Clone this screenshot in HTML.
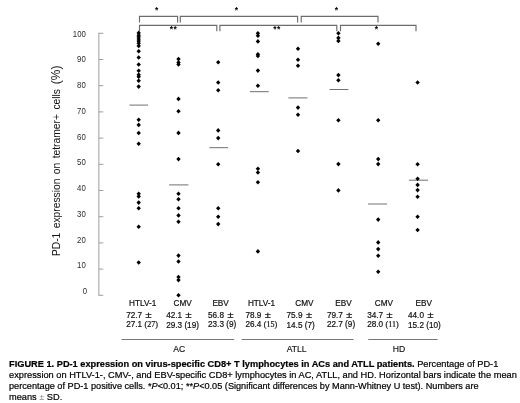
<!DOCTYPE html>
<html><head><meta charset="utf-8"><title>Figure 1</title>
<style>
html,body{margin:0;padding:0;background:#fff;}
body{width:520px;height:403px;position:relative;overflow:hidden;font-family:"Liberation Sans",sans-serif;color:#111;}
svg{position:absolute;left:0;top:0;}
svg text{font-family:"Liberation Sans",sans-serif;}
.cap{position:absolute;left:9px;white-space:nowrap;font-size:9.22px;line-height:10.5px;color:#000;-webkit-text-stroke:0.2px #000;}
.serif{font-family:"Liberation Serif",serif;}
</style></head><body>
<svg width="520" height="403" viewBox="0 0 520 403">
<g stroke="#949494" stroke-width="0.9" fill="none">
<path d="M98.85 32.8V295.8"/>
<path d="M98.8 33.3H103.3"/>
<path d="M98.8 59.5H103.3"/>
<path d="M98.8 85.7H103.3"/>
<path d="M98.8 111.9H103.3"/>
<path d="M98.8 138.1H103.3"/>
<path d="M98.8 164.3H103.3"/>
<path d="M98.8 190.5H103.3"/>
<path d="M98.8 216.7H103.3"/>
<path d="M98.8 242.9H103.3"/>
<path d="M98.8 269.1H103.3"/>
<path d="M98.8 295.3H103.3"/>
</g>
<g font-size="7.8" fill="#2a2a2a" text-anchor="end">
<text transform="translate(85.8 36.6) scale(1,1.08)">100</text>
<text transform="translate(85.8 62.4) scale(1,1.08)">90</text>
<text transform="translate(85.8 88.1) scale(1,1.08)">80</text>
<text transform="translate(85.8 113.8) scale(1,1.08)">70</text>
<text transform="translate(85.8 139.6) scale(1,1.08)">60</text>
<text transform="translate(85.8 165.3) scale(1,1.08)">50</text>
<text transform="translate(85.8 191.1) scale(1,1.08)">40</text>
<text transform="translate(85.8 216.8) scale(1,1.08)">30</text>
<text transform="translate(85.8 242.6) scale(1,1.08)">20</text>
<text transform="translate(85.8 268.4) scale(1,1.08)">10</text>
<text transform="translate(87.1 294.1) scale(1,1.08)">0</text>
</g>
<text transform="translate(59.9 256.1) rotate(-90) scale(0.95,1.08)" font-size="10.85" word-spacing="1.6" fill="#111" xml:space="preserve">PD-1 expression on tetramer+ cells <tspan font-size="12.6" dx="0.5">(%)</tspan></text>
<g stroke="#6c6c6c" stroke-width="1.15" fill="none">
<path d="M139.5 22.5V16.4H177.6V22.5"/>
<path d="M180.3 22.5V16.4H297.6V22.5"/>
<path d="M301.2 22.5V16.4H378V22.5"/>
<path d="M139.5 31.3V25.3H216.8V31.3"/>
<path d="M219.9 31.3V25.3H336.8V31.3"/>
<path d="M340.5 31.3V25.3H416V31.3"/>
</g>
<g font-size="8.5" font-weight="bold" fill="#000" text-anchor="middle" letter-spacing="0.45">
<text x="156.8" y="13.4">*</text>
<text x="236.7" y="13.4">*</text>
<text x="336.7" y="13.4">*</text>
<text x="173.6" y="32.0">**</text>
<text x="277.0" y="32.2">**</text>
<text x="376.7" y="32.3">*</text>
</g>
<g stroke="#606060" stroke-width="0.9">
<path d="M129.4 105.1H148.0"/>
<path d="M169.1 184.9H188.4"/>
<path d="M209.3 147.7H228.1"/>
<path d="M249.9 91.7H268.8"/>
<path d="M288.4 97.9H307.4"/>
<path d="M329.5 89.5H348.4"/>
<path d="M368.0 204.0H387.1"/>
<path d="M408.9 180.2H428.0"/>
</g>
<g fill="#000">
<path d="M138.7 30.6l2.2 2.3l-2.2 2.3l-2.2-2.3z"/>
<path d="M138.7 32.9l2.2 2.3l-2.2 2.3l-2.2-2.3z"/>
<path d="M138.7 34.6l2.2 2.3l-2.2 2.3l-2.2-2.3z"/>
<path d="M138.7 36.7l2.2 2.3l-2.2 2.3l-2.2-2.3z"/>
<path d="M138.7 38.8l2.2 2.3l-2.2 2.3l-2.2-2.3z"/>
<path d="M138.7 40.9l2.2 2.3l-2.2 2.3l-2.2-2.3z"/>
<path d="M138.7 43.6l2.2 2.3l-2.2 2.3l-2.2-2.3z"/>
<path d="M138.7 48.9l2.2 2.3l-2.2 2.3l-2.2-2.3z"/>
<path d="M138.7 55.2l2.2 2.3l-2.2 2.3l-2.2-2.3z"/>
<path d="M138.7 62.2l2.2 2.3l-2.2 2.3l-2.2-2.3z"/>
<path d="M138.7 68.5l2.2 2.3l-2.2 2.3l-2.2-2.3z"/>
<path d="M138.7 72.5l2.2 2.3l-2.2 2.3l-2.2-2.3z"/>
<path d="M138.7 74.4l2.2 2.3l-2.2 2.3l-2.2-2.3z"/>
<path d="M138.7 78.4l2.2 2.3l-2.2 2.3l-2.2-2.3z"/>
<path d="M138.7 84.3l2.2 2.3l-2.2 2.3l-2.2-2.3z"/>
<path d="M138.7 117.4l2.2 2.3l-2.2 2.3l-2.2-2.3z"/>
<path d="M138.7 122.6l2.2 2.3l-2.2 2.3l-2.2-2.3z"/>
<path d="M138.7 130.7l2.2 2.3l-2.2 2.3l-2.2-2.3z"/>
<path d="M138.7 141.5l2.2 2.3l-2.2 2.3l-2.2-2.3z"/>
<path d="M138.7 191.4l2.2 2.3l-2.2 2.3l-2.2-2.3z"/>
<path d="M138.7 194.1l2.2 2.3l-2.2 2.3l-2.2-2.3z"/>
<path d="M138.7 200.3l2.2 2.3l-2.2 2.3l-2.2-2.3z"/>
<path d="M138.7 206.0l2.2 2.3l-2.2 2.3l-2.2-2.3z"/>
<path d="M138.7 224.5l2.2 2.3l-2.2 2.3l-2.2-2.3z"/>
<path d="M138.7 260.2l2.2 2.3l-2.2 2.3l-2.2-2.3z"/>
<path d="M178.5 56.8l2.2 2.3l-2.2 2.3l-2.2-2.3z"/>
<path d="M178.5 60.1l2.2 2.3l-2.2 2.3l-2.2-2.3z"/>
<path d="M178.5 62.1l2.2 2.3l-2.2 2.3l-2.2-2.3z"/>
<path d="M178.5 96.6l2.2 2.3l-2.2 2.3l-2.2-2.3z"/>
<path d="M178.5 109.0l2.2 2.3l-2.2 2.3l-2.2-2.3z"/>
<path d="M178.5 130.6l2.2 2.3l-2.2 2.3l-2.2-2.3z"/>
<path d="M178.5 156.8l2.2 2.3l-2.2 2.3l-2.2-2.3z"/>
<path d="M178.5 191.4l2.2 2.3l-2.2 2.3l-2.2-2.3z"/>
<path d="M178.5 197.0l2.2 2.3l-2.2 2.3l-2.2-2.3z"/>
<path d="M178.5 205.9l2.2 2.3l-2.2 2.3l-2.2-2.3z"/>
<path d="M178.5 213.1l2.2 2.3l-2.2 2.3l-2.2-2.3z"/>
<path d="M178.5 219.5l2.2 2.3l-2.2 2.3l-2.2-2.3z"/>
<path d="M178.5 253.3l2.2 2.3l-2.2 2.3l-2.2-2.3z"/>
<path d="M178.5 259.2l2.2 2.3l-2.2 2.3l-2.2-2.3z"/>
<path d="M178.5 274.7l2.2 2.3l-2.2 2.3l-2.2-2.3z"/>
<path d="M178.5 277.8l2.2 2.3l-2.2 2.3l-2.2-2.3z"/>
<path d="M178.5 293.0l2.2 2.3l-2.2 2.3l-2.2-2.3z"/>
<path d="M218.2 59.9l2.2 2.3l-2.2 2.3l-2.2-2.3z"/>
<path d="M218.2 80.2l2.2 2.3l-2.2 2.3l-2.2-2.3z"/>
<path d="M218.2 87.9l2.2 2.3l-2.2 2.3l-2.2-2.3z"/>
<path d="M218.2 128.1l2.2 2.3l-2.2 2.3l-2.2-2.3z"/>
<path d="M218.2 135.8l2.2 2.3l-2.2 2.3l-2.2-2.3z"/>
<path d="M218.2 162.0l2.2 2.3l-2.2 2.3l-2.2-2.3z"/>
<path d="M218.2 205.9l2.2 2.3l-2.2 2.3l-2.2-2.3z"/>
<path d="M218.2 214.4l2.2 2.3l-2.2 2.3l-2.2-2.3z"/>
<path d="M218.2 221.8l2.2 2.3l-2.2 2.3l-2.2-2.3z"/>
<path d="M257.9 30.9l2.2 2.3l-2.2 2.3l-2.2-2.3z"/>
<path d="M257.9 33.4l2.2 2.3l-2.2 2.3l-2.2-2.3z"/>
<path d="M257.9 39.1l2.2 2.3l-2.2 2.3l-2.2-2.3z"/>
<path d="M257.9 52.0l2.2 2.3l-2.2 2.3l-2.2-2.3z"/>
<path d="M257.9 53.7l2.2 2.3l-2.2 2.3l-2.2-2.3z"/>
<path d="M257.9 68.3l2.2 2.3l-2.2 2.3l-2.2-2.3z"/>
<path d="M257.9 83.4l2.2 2.3l-2.2 2.3l-2.2-2.3z"/>
<path d="M257.9 166.5l2.2 2.3l-2.2 2.3l-2.2-2.3z"/>
<path d="M257.9 170.2l2.2 2.3l-2.2 2.3l-2.2-2.3z"/>
<path d="M257.9 179.9l2.2 2.3l-2.2 2.3l-2.2-2.3z"/>
<path d="M257.9 249.1l2.2 2.3l-2.2 2.3l-2.2-2.3z"/>
<path d="M298.0 46.5l2.2 2.3l-2.2 2.3l-2.2-2.3z"/>
<path d="M298.0 57.4l2.2 2.3l-2.2 2.3l-2.2-2.3z"/>
<path d="M298.0 63.4l2.2 2.3l-2.2 2.3l-2.2-2.3z"/>
<path d="M298.0 105.3l2.2 2.3l-2.2 2.3l-2.2-2.3z"/>
<path d="M298.0 112.5l2.2 2.3l-2.2 2.3l-2.2-2.3z"/>
<path d="M298.0 148.7l2.2 2.3l-2.2 2.3l-2.2-2.3z"/>
<path d="M338.4 30.9l2.2 2.3l-2.2 2.3l-2.2-2.3z"/>
<path d="M338.4 35.6l2.2 2.3l-2.2 2.3l-2.2-2.3z"/>
<path d="M338.4 38.6l2.2 2.3l-2.2 2.3l-2.2-2.3z"/>
<path d="M338.4 72.8l2.2 2.3l-2.2 2.3l-2.2-2.3z"/>
<path d="M338.4 78.0l2.2 2.3l-2.2 2.3l-2.2-2.3z"/>
<path d="M338.4 117.9l2.2 2.3l-2.2 2.3l-2.2-2.3z"/>
<path d="M338.4 161.8l2.2 2.3l-2.2 2.3l-2.2-2.3z"/>
<path d="M338.4 188.1l2.2 2.3l-2.2 2.3l-2.2-2.3z"/>
<path d="M378.2 41.5l2.2 2.3l-2.2 2.3l-2.2-2.3z"/>
<path d="M378.2 117.9l2.2 2.3l-2.2 2.3l-2.2-2.3z"/>
<path d="M378.2 156.8l2.2 2.3l-2.2 2.3l-2.2-2.3z"/>
<path d="M378.2 161.8l2.2 2.3l-2.2 2.3l-2.2-2.3z"/>
<path d="M378.2 217.3l2.2 2.3l-2.2 2.3l-2.2-2.3z"/>
<path d="M378.2 240.1l2.2 2.3l-2.2 2.3l-2.2-2.3z"/>
<path d="M378.2 246.8l2.2 2.3l-2.2 2.3l-2.2-2.3z"/>
<path d="M378.2 253.5l2.2 2.3l-2.2 2.3l-2.2-2.3z"/>
<path d="M378.2 269.4l2.2 2.3l-2.2 2.3l-2.2-2.3z"/>
<path d="M417.6 80.2l2.2 2.3l-2.2 2.3l-2.2-2.3z"/>
<path d="M417.6 162.0l2.2 2.3l-2.2 2.3l-2.2-2.3z"/>
<path d="M417.6 176.4l2.2 2.3l-2.2 2.3l-2.2-2.3z"/>
<path d="M417.6 182.6l2.2 2.3l-2.2 2.3l-2.2-2.3z"/>
<path d="M417.6 187.8l2.2 2.3l-2.2 2.3l-2.2-2.3z"/>
<path d="M417.6 194.5l2.2 2.3l-2.2 2.3l-2.2-2.3z"/>
<path d="M417.6 214.4l2.2 2.3l-2.2 2.3l-2.2-2.3z"/>
<path d="M417.6 227.7l2.2 2.3l-2.2 2.3l-2.2-2.3z"/>
</g>
<g font-size="8.2" fill="#111" stroke="#111" stroke-width="0.2">
<text x="142.7" y="306.2" text-anchor="middle">HTLV-1</text>
<text x="126.2" y="317.5">72.7</text><text x="145.6" y="317.7" font-size="8.6" textLength="6" lengthAdjust="spacingAndGlyphs">±</text>
<text x="126.2" y="327.3">27.1<tspan dx="2.4" class="serif" font-size="8">(27)</tspan></text>
<text x="182.7" y="306.2" text-anchor="middle">CMV</text>
<text x="166.2" y="318.2">42.1</text><text x="185.6" y="318.4" font-size="8.6" textLength="6" lengthAdjust="spacingAndGlyphs">±</text>
<text x="166.2" y="328.0">29.3 (19)</text>
<text x="220.6" y="306.2" text-anchor="middle">EBV</text>
<text x="208" y="317.5">56.8</text><text x="227.4" y="317.7" font-size="8.6" textLength="6" lengthAdjust="spacingAndGlyphs">±</text>
<text x="208" y="327.3">23.3 (9)</text>
<text x="261.5" y="306.2" text-anchor="middle">HTLV-1</text>
<text x="245.4" y="317.5">78.9</text><text x="264.8" y="317.7" font-size="8.6" textLength="6" lengthAdjust="spacingAndGlyphs">±</text>
<text x="245.4" y="327.3">26.4<tspan dx="2.4" class="serif" font-size="8">(15)</tspan></text>
<text x="304.4" y="306.2" text-anchor="middle">CMV</text>
<text x="286.5" y="317.8">75.9</text><text x="305.9" y="318.0" font-size="8.6" textLength="6" lengthAdjust="spacingAndGlyphs">±</text>
<text x="286.5" y="327.6">14.5 (7)</text>
<text x="343.4" y="306.2" text-anchor="middle">EBV</text>
<text x="326.9" y="317.5">79.7</text><text x="346.3" y="317.7" font-size="8.6" textLength="6" lengthAdjust="spacingAndGlyphs">±</text>
<text x="326.9" y="327.3">22.7 (9)</text>
<text x="383.9" y="306.2" text-anchor="middle">CMV</text>
<text x="367.2" y="317.5">34.7</text><text x="386.6" y="317.7" font-size="8.6" textLength="6" lengthAdjust="spacingAndGlyphs">±</text>
<text x="367.2" y="327.3">28.0<tspan dx="2.4" class="serif" font-size="8">(11)</tspan></text>
<text x="423.8" y="306.2" text-anchor="middle">EBV</text>
<text x="408" y="318.2">44.0</text><text x="427.4" y="318.4" font-size="8.6" textLength="6" lengthAdjust="spacingAndGlyphs">±</text>
<text x="408" y="328.0">15.2 (10)</text>
</g>
<g stroke="#777" stroke-width="1"><path d="M121.5 339.5H234.2"/><path d="M241.7 339.5H353.6"/><path d="M368.3 339.5H437.6"/></g>
<g font-size="8.6" fill="#111" stroke="#111" stroke-width="0.15" text-anchor="middle"><text x="179.2" y="351.9">AC</text><text x="296.7" y="351.9">ATLL</text><text x="398.9" y="351.9">HD</text></g>
</svg>
<div class="cap" style="top:358.8px;font-size:9.24px"><b>FIGURE 1. PD-1 expression on virus-specific CD8+ T lymphocytes in ACs and ATLL patients.</b> Percentage of PD-1</div>
<div class="cap" style="top:369.7px;font-size:9.26px">expression on HTLV-1-, CMV-, and EBV-specific CD8+ lymphocytes in AC, ATLL, and HD. Horizontal bars indicate the mean</div>
<div class="cap" style="top:380.7px;font-size:9.17px">percentage of PD-1 positive cells. *<i>P</i>&lt;0.01; **<i>P</i>&lt;0.05 (Significant differences by Mann-Whitney U test). Numbers are</div>
<div class="cap" style="top:391.9px">means<span style="display:inline-block;width:10.2px;text-align:center;font-size:9px;color:#8a8a8a;-webkit-text-stroke:0">±</span>SD.</div>
</body></html>
